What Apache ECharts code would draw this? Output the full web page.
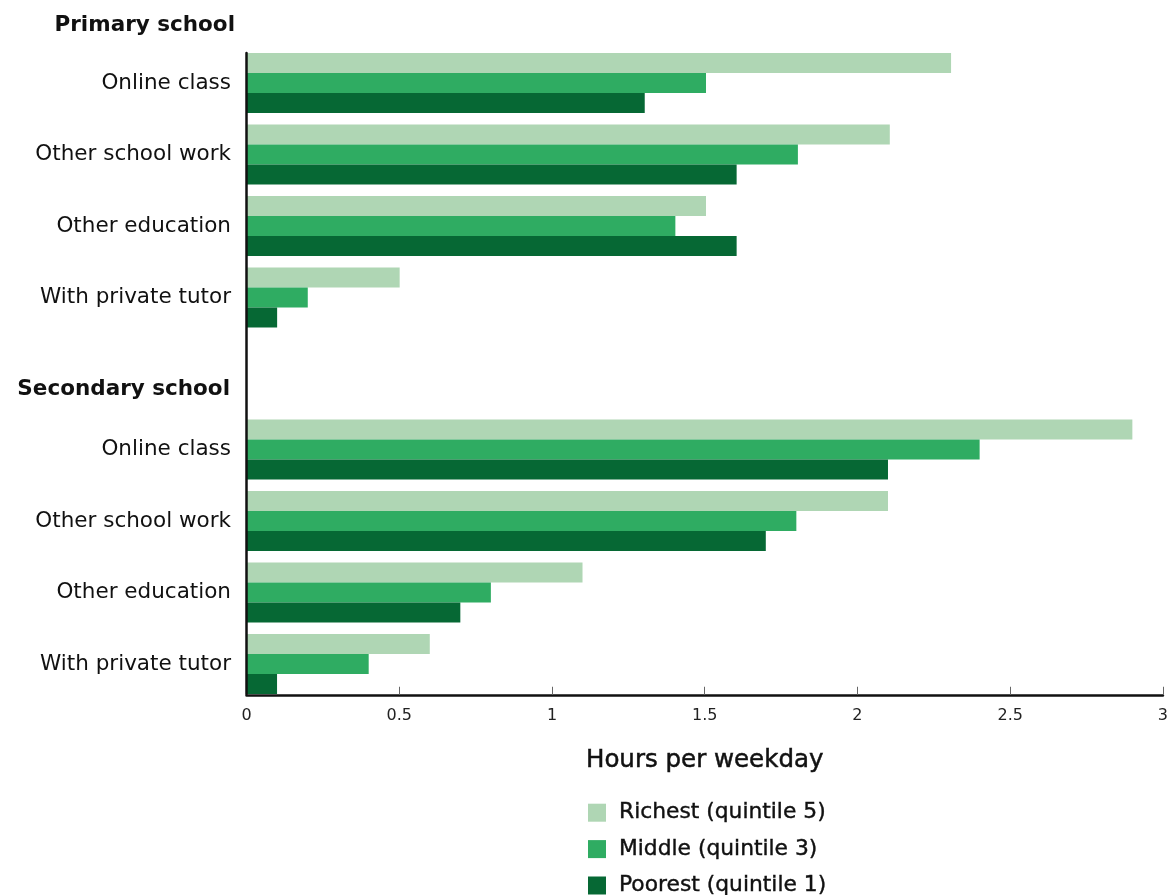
<!DOCTYPE html>
<html><head><meta charset="utf-8">
<script src="https://cdn.jsdelivr.net/npm/echarts@6/dist/echarts.min.js"></script>
<style>html,body{margin:0;padding:0;background:#fff}#c{width:1171px;height:895px}</style>
</head><body><div id="c"></div>
<script>
const categories = ['Online class', 'Other school work', 'Other education', 'With private tutor'];
const seriesNames = ['Richest (quintile 5)', 'Middle (quintile 3)', 'Poorest (quintile 1)'];
const primaryRichest = [2.3, 2.1, 1.5, 0.5];
const primaryMiddle = [1.5, 1.8, 1.4, 0.2];
const primaryPoorest = [1.3, 1.6, 1.6, 0.1];
const secondaryRichest = [2.9, 2.1, 1.1, 0.6];
const secondaryMiddle = [2.4, 1.8, 0.8, 0.4];
const secondaryPoorest = [2.1, 1.7, 0.7, 0.1];
const sectionTitles = ['Primary school', 'Secondary school'];

const colors = ['#afd6b4', '#2fac62', '#066834'];
const FONT = '"DejaVu Sans", sans-serif';
const L = 246.5, R = 5.5;

const yLabel = {fontSize: 21.5, color: '#111', fontFamily: FONT, margin: 15.5};

function bars(name, data, color, idx) {
  return {
    type: 'bar', name: name, data: data, xAxisIndex: idx, yAxisIndex: idx,
    barWidth: 20, barGap: '0%', itemStyle: {color: color}, animation: false
  };
}

const titleStyle = {fontSize: 21.5, fontWeight: 'bold', color: '#111', fontFamily: FONT, lineHeight: 26};

const chart = echarts.init(document.getElementById('c'), null, {renderer: 'canvas'});
chart.setOption({
  animation: false,
  textStyle: {fontFamily: FONT},
  title: [
    {text: sectionTitles[0], right: 936, top: 12, padding: 0, textStyle: titleStyle},
    {text: sectionTitles[1], right: 941, top: 376, padding: 0, textStyle: titleStyle}
  ],
  grid: [
    {left: L, right: R, top: 47.25, height: 286},
    {left: L, right: R, top: 413.75, height: 286},
    {left: L, right: R, top: 53, height: 641}
  ],
  xAxis: [
    {gridIndex: 0, type: 'value', min: 0, max: 3, show: false},
    {gridIndex: 1, type: 'value', min: 0, max: 3, interval: 0.5, offset: -5,
     splitLine: {show: false},
     axisLine: {show: true, lineStyle: {color: '#111', width: 2.5}},
     axisTick: {show: true, inside: true, length: 8, lineStyle: {color: '#666', width: 1}},
     axisLabel: {fontSize: 16, color: '#222', margin: 13, fontFamily: FONT},
     name: 'Hours per weekday', nameLocation: 'middle', nameGap: 53.5,
     nameTextStyle: {fontSize: 24.5, color: '#111', fontFamily: FONT, textBorderColor: '#111', textBorderWidth: 0.5}},
    {gridIndex: 2, type: 'value', min: 0, max: 3, show: false}
  ],
  yAxis: [
    {gridIndex: 0, type: 'category', data: categories, inverse: true,
     axisLine: {show: false}, axisTick: {show: false}, axisLabel: yLabel},
    {gridIndex: 1, type: 'category', data: categories, inverse: true,
     axisLine: {show: false}, axisTick: {show: false}, axisLabel: yLabel},
    {gridIndex: 2, type: 'category', data: [''], z: 10,
     axisLine: {show: true, lineStyle: {color: '#111', width: 2.5}},
     axisTick: {show: false}, axisLabel: {show: false}}
  ],
  legend: {
    orient: 'vertical', left: 588, top: 801.5, padding: 0, height: 300,
    itemWidth: 18, itemHeight: 18, itemGap: 14, icon: 'rect',
    data: seriesNames,
    textStyle: {fontSize: 21.8, lineHeight: 18, color: '#111', fontFamily: FONT,
                textBorderColor: '#111', textBorderWidth: 0.4, padding: [0, 0, 0, 8]}
  },
  series: [
    bars(seriesNames[0], primaryRichest, colors[0], 0),
    bars(seriesNames[1], primaryMiddle, colors[1], 0),
    bars(seriesNames[2], primaryPoorest, colors[2], 0),
    bars(seriesNames[0], secondaryRichest, colors[0], 1),
    bars(seriesNames[1], secondaryMiddle, colors[1], 1),
    bars(seriesNames[2], secondaryPoorest, colors[2], 1)
  ]
});
</script></body></html>
